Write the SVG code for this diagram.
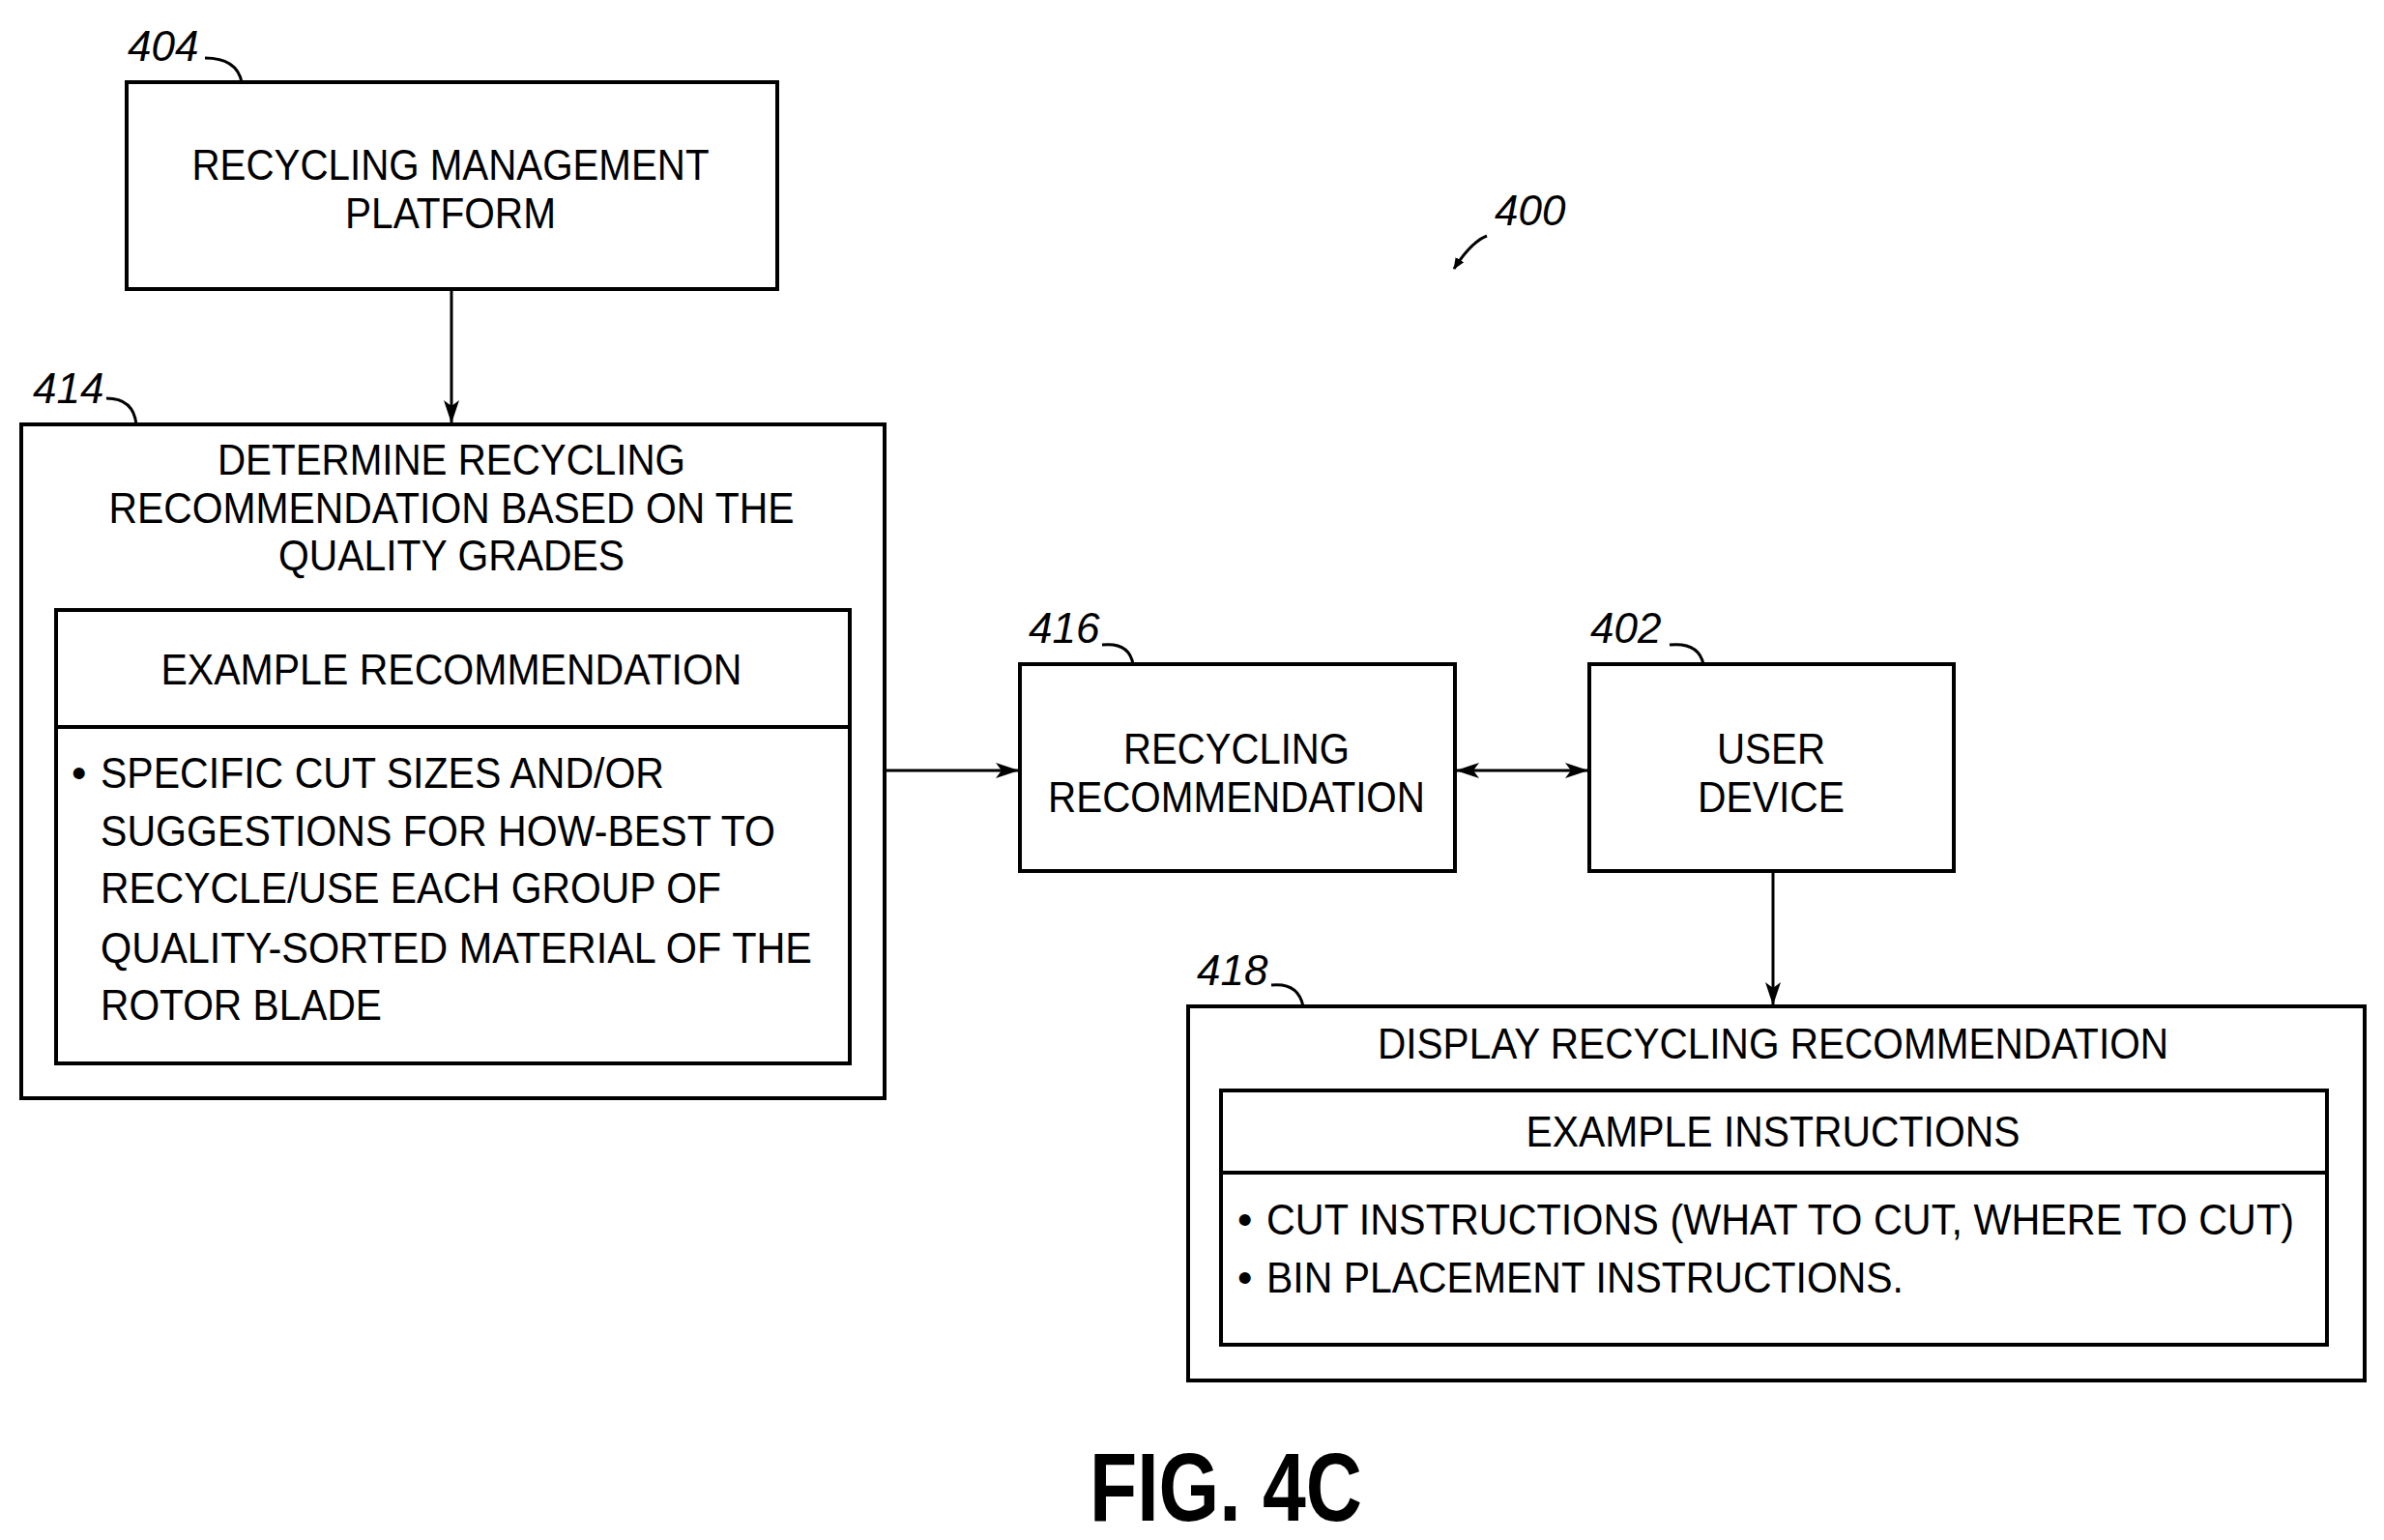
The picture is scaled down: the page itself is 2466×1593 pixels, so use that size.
<svg xmlns="http://www.w3.org/2000/svg" width="2466" height="1593" viewBox="0 0 2466 1593">
<style>
.b{fill:none;stroke:#000;stroke-width:4}
.t{font-family:"Liberation Sans",Arial,sans-serif;font-size:44px;fill:#000}
.c{text-anchor:middle}
.l{font-family:"Liberation Sans",Arial,sans-serif;font-size:44px;font-style:italic;fill:#000}
.w{fill:none;stroke:#000;stroke-width:3}
</style>
<defs><marker id="a" markerWidth="12" markerHeight="10" refX="11" refY="5" orient="auto-start-reverse" markerUnits="userSpaceOnUse" viewBox="0 0 12 10"><path d="M0,0 L12,5 L0,10 Z"/></marker>
<marker id="a2" markerWidth="24" markerHeight="16" refX="23" refY="8" orient="auto-start-reverse" markerUnits="userSpaceOnUse"><path d="M0,0 L24,8 L0,16 L6,8 Z"/></marker></defs>
<rect width="2466" height="1593" fill="#fff"/>
<g id="n404"><rect class="b" x="131" y="85" width="673" height="214"/>
<text class="t c" x="466" y="186" textLength="535" lengthAdjust="spacingAndGlyphs">RECYCLING MANAGEMENT</text>
<text class="t c" x="466" y="236" textLength="218" lengthAdjust="spacingAndGlyphs">PLATFORM</text>
<text class="l" x="132" y="63">404</text><path class="w" d="M212,60 Q245,60 250,85"/></g>
<g id="n414"><rect class="b" x="22" y="439" width="893" height="697"/>
<text class="t c" x="467" y="491" textLength="484" lengthAdjust="spacingAndGlyphs">DETERMINE RECYCLING</text>
<text class="t c" x="467" y="541" textLength="709" lengthAdjust="spacingAndGlyphs">RECOMMENDATION BASED ON THE</text>
<text class="t c" x="467" y="590" textLength="358" lengthAdjust="spacingAndGlyphs">QUALITY GRADES</text>
<rect class="b" x="58" y="631" width="821" height="469"/><line class="b" x1="58" y1="752" x2="879" y2="752"/>
<text class="t c" x="467" y="708" textLength="601" lengthAdjust="spacingAndGlyphs">EXAMPLE RECOMMENDATION</text>
<text class="t" x="74" y="815">•</text>
<text class="t" x="104" y="815" textLength="583" lengthAdjust="spacingAndGlyphs">SPECIFIC CUT SIZES AND/OR</text>
<text class="t" x="104" y="875" textLength="698" lengthAdjust="spacingAndGlyphs">SUGGESTIONS FOR HOW-BEST TO</text>
<text class="t" x="104" y="934" textLength="642" lengthAdjust="spacingAndGlyphs">RECYCLE/USE EACH GROUP OF</text>
<text class="t" x="104" y="996" textLength="736" lengthAdjust="spacingAndGlyphs">QUALITY-SORTED MATERIAL OF THE</text>
<text class="t" x="104" y="1055" textLength="291" lengthAdjust="spacingAndGlyphs">ROTOR BLADE</text>
<text class="l" x="34" y="417">414</text><path class="w" d="M110,412 Q138,412 141,439"/></g>
<g id="n416"><rect class="b" x="1055" y="687" width="450" height="214"/>
<text class="t c" x="1279" y="790" textLength="234" lengthAdjust="spacingAndGlyphs">RECYCLING</text>
<text class="t c" x="1279" y="840" textLength="390" lengthAdjust="spacingAndGlyphs">RECOMMENDATION</text>
<text class="l" x="1064" y="665">416</text><path class="w" d="M1140,667 Q1168,664 1172,687"/></g>
<g id="n402"><rect class="b" x="1644" y="687" width="377" height="214"/>
<text class="t c" x="1832" y="790" textLength="112" lengthAdjust="spacingAndGlyphs">USER</text>
<text class="t c" x="1832" y="840" textLength="152" lengthAdjust="spacingAndGlyphs">DEVICE</text>
<text class="l" x="1645" y="665">402</text><path class="w" d="M1727,667 Q1757,664 1762,687"/></g>
<g id="n418"><rect class="b" x="1229" y="1041" width="1217" height="387"/>
<text class="t c" x="1834" y="1095" textLength="818" lengthAdjust="spacingAndGlyphs">DISPLAY RECYCLING RECOMMENDATION</text>
<rect class="b" x="1263" y="1128" width="1144" height="263"/><line class="b" x1="1263" y1="1213" x2="2407" y2="1213"/>
<text class="t c" x="1834" y="1186" textLength="511" lengthAdjust="spacingAndGlyphs">EXAMPLE INSTRUCTIONS</text>
<text class="t" x="1280" y="1277">•</text>
<text class="t" x="1310" y="1277" textLength="1063" lengthAdjust="spacingAndGlyphs">CUT INSTRUCTIONS (WHAT TO CUT, WHERE TO CUT)</text>
<text class="t" x="1280" y="1337">•</text>
<text class="t" x="1310" y="1337" textLength="659" lengthAdjust="spacingAndGlyphs">BIN PLACEMENT INSTRUCTIONS.</text>
<text class="l" x="1238" y="1019">418</text><path class="w" d="M1315,1019 Q1343,1016 1348,1041"/></g>
<g id="n400"><text class="l" x="1546" y="233">400</text><path class="w" d="M1538,244 Q1522,250 1504,278" marker-end="url(#a)"/></g>
<g id="connectors" fill="none" stroke="#000" stroke-width="3">
<line x1="467" y1="299" x2="467" y2="437" marker-end="url(#a2)"/>
<line x1="915" y1="797" x2="1053" y2="797" marker-end="url(#a2)"/>
<line x1="1507" y1="797" x2="1642" y2="797" marker-start="url(#a2)" marker-end="url(#a2)"/>
<line x1="1834" y1="901" x2="1834" y2="1039" marker-end="url(#a2)"/>
</g>
<text x="1268" y="1573" text-anchor="middle" font-family="Liberation Sans,Arial,sans-serif" font-weight="bold" font-size="100" textLength="282" lengthAdjust="spacingAndGlyphs">FIG. 4C</text>
</svg>
